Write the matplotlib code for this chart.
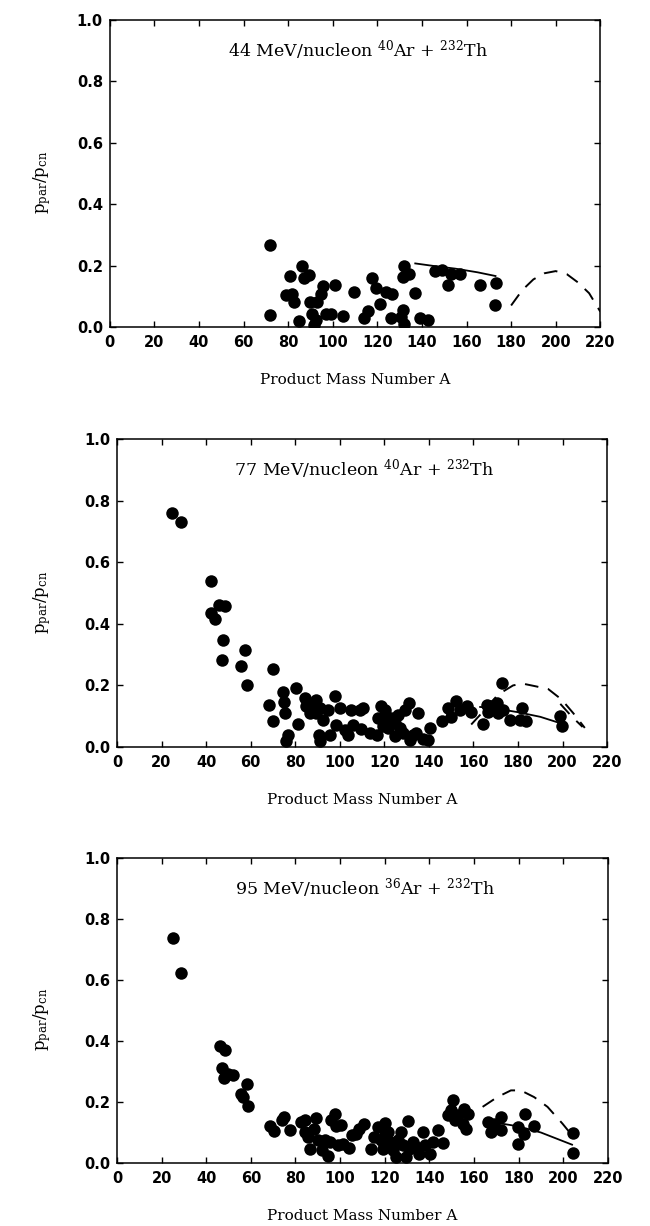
import matplotlib
matplotlib.use("Agg")
import matplotlib.pyplot as plt

plt.rcParams['mathtext.fontset'] = 'dejavuserif'

# 44 MeV/nucleon 40Ar + 232Th
a44 = [71.8, 72, 81, 78.8, 81.8, 82.6, 84.8, 86, 87, 89.3, 89.8, 90.8, 91.6, 92.3, 93,
       94.6, 95.8, 96.8, 99, 101, 104.7, 109.6, 114, 116, 117.4, 119.4, 121.3, 123.9,
       126.6, 126, 130.6, 131.4, 131.8, 131.4, 134.4, 132, 137, 139.3, 142.6, 146, 149,
       151.6, 153, 156.9, 166, 173, 172.7]
r44 = [0.268, 0.038, 0.167, 0.105, 0.109, 0.082, 0.02, 0.199, 0.16, 0.168, 0.082, 0.043,
       0.005, 0.022, 0.082, 0.109, 0.133, 0.043, 0.043, 0.136, 0.037, 0.113, 0.028, 0.052,
       0.158, 0.128, 0.076, 0.113, 0.107, 0.029, 0.033, 0.054, 0.199, 0.163, 0.174, 0.011,
       0.112, 0.03, 0.024, 0.182, 0.187, 0.138, 0.174, 0.174, 0.138, 0.143, 0.073]
solid44_x = [137, 145, 155, 165, 173]
solid44_y = [0.207, 0.199, 0.19, 0.178, 0.166]
dash44_x = [180, 185, 190, 195, 200, 205, 210, 215, 220]
dash44_y = [0.07, 0.12, 0.155, 0.175, 0.182, 0.172, 0.145, 0.11, 0.05]

# 77 MeV/nucleon 40Ar + 232Th
a77 = [24.7, 28.6, 42, 42.4, 43.9, 45.7, 48.4, 47.6, 47.2, 55.5, 57.6, 58.5, 70, 68.3, 70,
       74.3, 75, 75.3, 76.8, 76, 80.5, 81.3, 84.3, 85, 86.5, 88, 89.5, 89.5, 91, 90.7, 91,
       92.5, 94.8, 95.5, 97.8, 98.5, 100, 102.2, 103.7, 105.2, 106, 109, 110.5, 109.7,
       113.5, 116.5, 117.2, 118.4, 120.2, 119.5, 121, 121.7, 123.2, 124.7, 124.7, 126.2,
       127, 128.4, 129.2, 131.1, 131.4, 132.9, 135.2, 134.4, 137.4, 139.4, 140.7, 145.7,
       148.7, 150.1, 152.1, 154, 157, 159.1, 164.4, 165.9, 166.7, 168.1, 170.4, 172.6,
       171.1, 173.3, 176.3, 180.8, 181.6, 183.5, 198.8, 199.6]
r77 = [0.76, 0.73, 0.539, 0.435, 0.416, 0.462, 0.457, 0.346, 0.281, 0.264, 0.314, 0.2,
       0.253, 0.137, 0.085, 0.18, 0.145, 0.11, 0.04, 0.018, 0.19, 0.076, 0.159, 0.132,
       0.11, 0.137, 0.154, 0.11, 0.127, 0.04, 0.018, 0.089, 0.121, 0.04, 0.165, 0.073,
       0.127, 0.056, 0.04, 0.121, 0.073, 0.121, 0.127, 0.06, 0.045, 0.04, 0.094, 0.132,
       0.121, 0.067, 0.089, 0.062, 0.094, 0.035, 0.078, 0.105, 0.062, 0.045, 0.121, 0.143,
       0.024, 0.04, 0.11, 0.045, 0.026, 0.024, 0.062, 0.083, 0.127, 0.097, 0.148, 0.121,
       0.132, 0.113, 0.076, 0.137, 0.113, 0.132, 0.143, 0.208, 0.11, 0.121, 0.087, 0.087,
       0.127, 0.083, 0.102, 0.069]
solid77_x = [163, 170, 180, 190, 200]
solid77_y = [0.13, 0.125, 0.113, 0.098, 0.075]
dash77_x = [159, 165, 171, 177.8, 182, 188, 193.6, 199.6, 204.8, 210]
dash77_y = [0.073, 0.12, 0.17, 0.2, 0.206, 0.197, 0.188, 0.154, 0.11, 0.062]
dash77b_x = [199, 204, 209]
dash77b_y = [0.14, 0.1, 0.065]

# 95 MeV/nucleon 36Ar + 232Th
a95 = [25, 28.8, 46.2, 48.4, 46.9, 48.1, 49.6, 51.9, 55.6, 56.6, 58.1, 58.9, 68.6, 70.5,
       73.8, 75, 77.5, 82.7, 84.2, 84.5, 85.7, 86.4, 88.4, 89.4, 90.2, 91.7, 93.1, 94.6,
       95.4, 95.8, 97.6, 98.4, 100.3, 99.1, 101.3, 103.9, 105.4, 107.3, 108.5, 110.6, 114,
       115.2, 117, 118.2, 119.2, 120, 120, 121.5, 122.2, 123.7, 125.2, 126, 127.4, 128.2,
       129.7, 130.4, 131.1, 132.6, 134.1, 135.6, 137.1, 137.9, 140.1, 141.6, 144.1, 146,
       148.3, 150.5, 149.8, 151.3, 152.8, 155, 155.7, 157.2, 156.5, 166.2, 167.7, 169.2,
       172.2, 172.2, 179.6, 179.6, 182.6, 182.9, 187, 204.2, 204.2]
r95 = [0.736, 0.624, 0.384, 0.369, 0.313, 0.28, 0.293, 0.29, 0.227, 0.216, 0.26, 0.187,
       0.121, 0.105, 0.14, 0.151, 0.109, 0.134, 0.14, 0.102, 0.085, 0.047, 0.113, 0.148,
       0.074, 0.042, 0.074, 0.022, 0.069, 0.14, 0.162, 0.12, 0.123, 0.058, 0.063, 0.05,
       0.091, 0.096, 0.113, 0.129, 0.047, 0.085, 0.118, 0.074, 0.047, 0.131, 0.091, 0.102,
       0.069, 0.042, 0.02, 0.074, 0.102, 0.058, 0.02, 0.138, 0.047, 0.069, 0.052, 0.031,
       0.102, 0.058, 0.031, 0.069, 0.109, 0.066, 0.156, 0.205, 0.173, 0.14, 0.156, 0.129,
       0.178, 0.162, 0.113, 0.134, 0.102, 0.129, 0.151, 0.107, 0.118, 0.061, 0.096, 0.16,
       0.12, 0.098, 0.033]
solid95_x = [170, 180, 190, 204]
solid95_y = [0.132, 0.12, 0.1, 0.06]
dash95_x = [163.9, 170.5, 176.6, 181, 187, 193, 199.7, 203.4]
dash95_y = [0.184, 0.216, 0.238, 0.238, 0.216, 0.184, 0.129, 0.096]

titles = [r"44 MeV/nucleon $^{40}$Ar + $^{232}$Th",
          r"77 MeV/nucleon $^{40}$Ar + $^{232}$Th",
          r"95 MeV/nucleon $^{36}$Ar + $^{232}$Th"]

panels = [
    (a44, r44, solid44_x, solid44_y, [(dash44_x, dash44_y)]),
    (a77, r77, solid77_x, solid77_y, [(dash77_x, dash77_y), (dash77b_x, dash77b_y)]),
    (a95, r95, solid95_x, solid95_y, [(dash95_x, dash95_y)]),
]

rects = [[0.169, 0.7333, 0.7545, 0.2504],
         [0.180, 0.3907, 0.7540, 0.2512],
         [0.180, 0.0514, 0.7550, 0.2488]]

fig = plt.figure(figsize=(6.5, 12.26), dpi=100)

for i in range(3):
    ax = fig.add_axes(rects[i])
    a, r, sx, sy, dashes = panels[i]
    ax.plot(a, r, 'o', color='black', markersize=9, markeredgewidth=0, zorder=3)
    ax.plot(sx, sy, '-', color='black', lw=1.3, zorder=2)
    for dx, dy in dashes:
        ax.plot(dx, dy, color='black', lw=1.4, linestyle=(0, (7, 5)), zorder=2)
    ax.set_xlim(0, 220)
    ax.set_ylim(0, 1.0)
    ax.set_xticks(range(0, 221, 20))
    ax.set_yticks([0.0, 0.2, 0.4, 0.6, 0.8, 1.0])
    ax.set_yticklabels(["0.0", "0.2", "0.4", "0.6", "0.8", "1.0"])
    ax.tick_params(direction='in', top=True, right=True, length=4, width=1)
    ax.tick_params(axis='x', pad=6)
    ax.tick_params(axis='y', pad=5)
    for lab in ax.get_xticklabels() + ax.get_yticklabels():
        lab.set_fontfamily('DejaVu Sans')
        lab.set_fontweight('bold')
        lab.set_fontsize(10.5)
    for sp in ax.spines.values():
        sp.set_linewidth(1.1)
    ax.text(0.505, 0.9, titles[i], transform=ax.transAxes, ha='center', va='center',
            fontsize=12.5, family='DejaVu Serif')
    ax.set_xlabel("Product Mass Number A", fontsize=11, family='DejaVu Serif')
    ax.xaxis.set_label_coords(0.5, -0.15)
    ax.set_ylabel(r"p$_{\mathrm{par}}$/p$_{\mathrm{cn}}$", fontsize=12, family='DejaVu Serif')
    ax.yaxis.set_label_coords(-0.115 if i == 0 else -0.13, 0.47)

fig.savefig("out.png", dpi=100)
